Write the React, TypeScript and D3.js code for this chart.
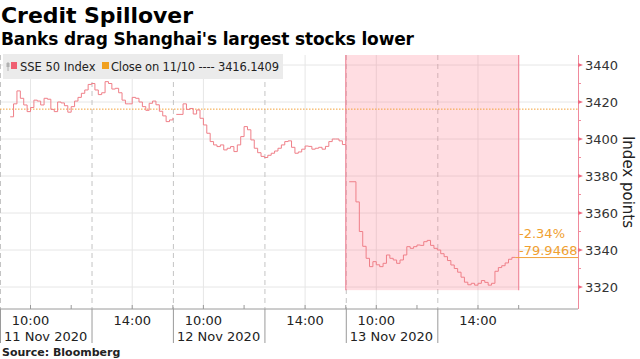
import { useRef, useEffect } from "react";
import * as d3 from "d3";

const days = ["11 Nov 2020", "12 Nov 2020", "13 Nov 2020"];
// opening auction print (9:20), null when none shows
const auctionPrints = [null, 3413.3, 3376.9];
// SSE 50, every 5 trading minutes from 9:30
const nov11 = [3412, 3419, 3426, 3422, 3418.4, 3414.8, 3417, 3421, 3420.5, 3418.4, 3422, 3421.5, 3416, 3414.8, 3420, 3419.5, 3418, 3414.5, 3417.5, 3420.5, 3422.5, 3424.7, 3426.5, 3429.5, 3430, 3426.5, 3424, 3425, 3431, 3430, 3427, 3427.4, 3425, 3421, 3419, 3419, 3422.5, 3422, 3420, 3417.5, 3415.5, 3419.3, 3420.5, 3418.5, 3415, 3412.5, 3409.4, 3410.3, 3411.5];
const nov12 = [3419, 3416, 3416.5, 3413.5, 3415.7, 3411.2, 3407.6, 3403.1, 3398.6, 3396.8, 3395.9, 3396.8, 3394.1, 3395, 3395.9, 3393.2, 3396.8, 3401.3, 3406.7, 3405, 3399.5, 3395, 3392.6, 3390.6, 3390, 3391.2, 3392.3, 3393.5, 3395, 3396.8, 3398.6, 3399, 3395.5, 3392.3, 3393, 3394.5, 3396.2, 3396, 3394.5, 3395, 3395.5, 3394.5, 3396, 3398.6, 3400, 3400, 3399, 3397, 3397];
const nov13 = [3366, 3350, 3342, 3335.5, 3331, 3333.7, 3332, 3331, 3332.8, 3337.3, 3335.5, 3334.6, 3332.8, 3334.6, 3337.3, 3341.8, 3340.9, 3341.8, 3342.7, 3342.5, 3344.5, 3345.2, 3342.5, 3340.9, 3340, 3338, 3336.4, 3334.3, 3331.9, 3330, 3328, 3325.3, 3322.6, 3321.2, 3322, 3321, 3322, 3323.5, 3322.5, 3321, 3322, 3328.5, 3330.5, 3331.5, 3333, 3335, 3336, 3336.19];
const series = [nov11, nov12, nov13];

const yTicks = [3320, 3340, 3360, 3380, 3400, 3420, 3440];
const yMinor = [3330, 3350, 3370, 3390, 3410, 3430];
const timeLabels = ["10:00", "14:00"];
const hourTicks = ["10:00", "11:00", "14:00", "15:00"];
const prevClose = 3416.1409;
const changeLabels = ["-2.34%", "-79.9468"];

const FONT = "DejaVu Sans, sans-serif";
const DAY = 255; // 9:15-11:30 + 13:00-15:00 in minutes

// minutes since 9:15 with the lunch break squeezed out
const sessionMin = (hhmm) => {
    const [h, m] = hhmm.split(":").map(Number);
    const t = h * 60 + m;
    return t <= 690 ? t - 555 : 135 + (t - 780);
};

const App = () => {
    const svgRef = useRef();

    useEffect(() => {
        const width = 640;
        const height = 359;
        const top = 55;
        const axisY = 309;
        const right = 578;

        const svg = d3.select(svgRef.current);
        svg.selectAll("*").remove();
        svg.attr("width", width).attr("height", height).style("font-family", FONT);

        const x = d3.scaleLinear().domain([0, 852.5]).range([0, right]);
        const y = d3.scaleLinear().domain([3320, 3440]).range([287, 65]);

        // horizontal grid
        svg.append("g")
            .selectAll("line")
            .data(yTicks)
            .join("line")
            .attr("x1", 0)
            .attr("x2", right)
            .attr("y1", (d) => y(d))
            .attr("y2", (d) => y(d))
            .attr("stroke", "#e6e6e6");

        // vertical grid: hours solid, day/lunch breaks dashed
        const g = svg.append("g");
        days.forEach((_, i) => {
            timeLabels.forEach((t) => {
                const xx = x(i * DAY + sessionMin(t));
                g.append("line").attr("x1", xx).attr("x2", xx).attr("y1", top).attr("y2", axisY).attr("stroke", "#e6e6e6");
            });
            [0, 135].forEach((m) => {
                const xx = x(i * DAY + m) + 0.5;
                g.append("line").attr("x1", xx).attr("x2", xx).attr("y1", top).attr("y2", axisY)
                    .attr("stroke", "#c4c4c4").attr("stroke-dasharray", "5,4");
            });
        });

        // highlight of 13 Nov
        const hx0 = x(2 * DAY);
        const hx1 = x(3 * DAY);
        const hy1 = y(d3.min(nov13)) + 5;
        svg.append("rect")
            .attr("x", hx0).attr("y", top).attr("width", hx1 - hx0).attr("height", hy1 - top)
            .attr("fill", "#ff6f86").attr("fill-opacity", 0.24);
        [hx0, hx1].forEach((xx) => {
            svg.append("line").attr("x1", xx).attr("x2", xx).attr("y1", top).attr("y2", hy1)
                .attr("stroke", "#f08a9c").attr("stroke-width", 1.2);
        });

        // previous close
        svg.append("line")
            .attr("x1", 0).attr("x2", right).attr("y1", y(prevClose)).attr("y2", y(prevClose))
            .attr("stroke", "#f2a23a").attr("stroke-width", 1).attr("stroke-dasharray", "1.5,1.5");

        // price
        const line = d3.line().x((d) => x(d.t)).y((d) => y(d.v)).curve(d3.curveStepAfter);
        let last = null;
        series.forEach((vals, i) => {
            const pts = [];
            if (auctionPrints[i] != null) pts.push({ t: i * DAY + sessionMin("9:20"), v: auctionPrints[i] });
            vals.forEach((v, k) => pts.push({ t: i * DAY + 15 + 5 * k, v }));
            last = pts[pts.length - 1];
            svg.append("path").attr("d", line(pts)).attr("fill", "none")
                .attr("stroke", "#ef7f88").attr("stroke-width", 1);
        });

        // change annotation
        svg.append("line")
            .attr("x1", x(last.t)).attr("x2", right).attr("y1", y(last.v) + 0.5).attr("y2", y(last.v) + 0.5)
            .attr("stroke", "#f2a23a");
        changeLabels.forEach((t, i) => {
            svg.append("text").attr("x", 519).attr("y", i === 0 ? 238 : 255)
                .style("font-size", "13px").style("fill", "#f0a030").text(t);
        });

        // legend
        svg.append("rect").attr("x", 3).attr("y", 54).attr("width", 280).attr("height", 25).attr("fill", "#ebebeb");
        svg.append("line").attr("x1", 8).attr("x2", 8).attr("y1", 62).attr("y2", 71).attr("stroke", "#b0b0b0");
        svg.append("rect").attr("x", 6.5).attr("y", 63).attr("width", 3).attr("height", 4).attr("fill", "#b0b0b0");
        svg.append("rect").attr("x", 11).attr("y", 62).attr("width", 6).attr("height", 7).attr("fill", "#ef5f72");
        svg.append("text").attr("x", 20).attr("y", 71).style("font-size", "11.5px").style("fill", "#222").text("SSE 50 Index");
        svg.append("rect").attr("x", 102).attr("y", 62).attr("width", 7).attr("height", 7).attr("fill", "#f0a020");
        svg.append("text").attr("x", 111).attr("y", 71).style("font-size", "11.5px").style("fill", "#222")
            .attr("textLength", 168).text(`Close on 11/10 ---- ${prevClose}`);

        // x axis
        svg.append("line").attr("x1", 0).attr("x2", right).attr("y1", axisY).attr("y2", axisY).attr("stroke", "#9a9a9a");
        days.forEach((d, i) => {
            [0, 135].forEach((m) => {
                const xx = x(i * DAY + m) + 0.5;
                svg.append("line").attr("x1", xx).attr("x2", xx).attr("y1", axisY).attr("y2", 343).attr("stroke", "#9a9a9a");
            });
            hourTicks.forEach((t) => {
                const xx = x(i * DAY + sessionMin(t));
                svg.append("line").attr("x1", xx).attr("x2", xx).attr("y1", axisY - 4).attr("y2", axisY).attr("stroke", "#9a9a9a");
            });
            timeLabels.forEach((t) => {
                svg.append("text").attr("x", x(i * DAY + sessionMin(t))).attr("y", 325)
                    .attr("text-anchor", "middle").style("font-size", "13px").style("fill", "#222").text(t);
            });
            svg.append("text").attr("x", x(i * DAY) + 4).attr("y", 341)
                .style("font-size", "13px").style("fill", "#222").text(d);
        });

        // right axis
        svg.append("line").attr("x1", right + 0.5).attr("x2", right + 0.5).attr("y1", top).attr("y2", axisY).attr("stroke", "#f08a9c");
        yMinor.forEach((v) => {
            svg.append("line").attr("x1", right).attr("x2", right + 3).attr("y1", y(v)).attr("y2", y(v)).attr("stroke", "#f08a9c");
        });
        yTicks.forEach((v) => {
            svg.append("path").attr("d", `M${right},${y(v) - 2}L${right + 5},${y(v)}L${right},${y(v) + 2}Z`).attr("fill", "#ee6a80");
            svg.append("text").attr("x", 585).attr("y", y(v)).attr("dy", "0.36em")
                .style("font-size", "13px").style("fill", "#333").text(v);
        });
        svg.append("text").attr("transform", "translate(623,182) rotate(90)").attr("text-anchor", "middle")
            .style("font-size", "15px").style("fill", "#222").text("Index points");

        // titles
        svg.append("text").attr("x", 1).attr("y", 23).style("font-size", "22px").style("font-weight", "bold")
            .attr("textLength", 192).text("Credit Spillover");
        svg.append("text").attr("x", 1).attr("y", 45).style("font-size", "17px").style("font-weight", "bold")
            .attr("textLength", 413).text("Banks drag Shanghai's largest stocks lower");
        svg.append("text").attr("x", 2).attr("y", 356).style("font-size", "11px").style("font-weight", "bold")
            .style("fill", "#222").text("Source: Bloomberg");
    }, []);

    return <svg ref={svgRef} style={{ position: "absolute", left: 0, top: 0 }}></svg>;
};

export default App;
